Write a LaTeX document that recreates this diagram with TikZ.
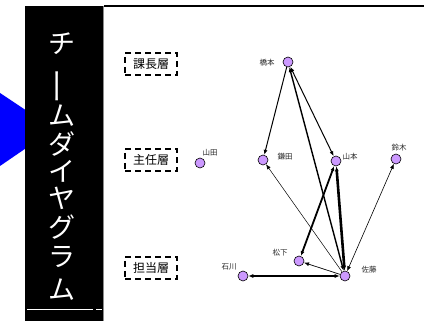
\documentclass[tikz,border=0pt]{standalone}
\usepackage{fontspec}
\setmainfont{Noto Sans CJK JP}
\usetikzlibrary{arrows.meta}
\definecolor{nodeviolet}{RGB}{204,153,255}
\definecolor{panelgray}{RGB}{140,140,140}
\tikzset{
  person/.style={circle,draw=black,line width=0.6pt,fill=nodeviolet,minimum size=10pt,inner sep=0pt},
  plabel/.style={font=\fontsize{7.5}{8}\selectfont,text=black!85,inner sep=0pt},
  layer/.style={draw=black,dashed,dash pattern=on 6pt off 4pt,line width=1.4pt,minimum width=52pt,minimum height=22pt,inner sep=0pt,font=\fontsize{12}{13}\selectfont},
  vchar/.style={text=white,font=\fontsize{27}{27}\selectfont,inner sep=0pt,text height=21pt,text depth=1pt},
  link/.style={-{Latex[length=5pt,width=4pt]}},
  blink/.style={{Latex[length=5pt,width=4pt]}-{Latex[length=5pt,width=4pt]}}
}
\begin{document}
\begin{tikzpicture}[x=1pt,y=-1pt]
\useasboundingbox (0,0) rectangle (424,321);
% blue arrow triangle
\fill[blue] (0,93) -- (54,129) -- (0,166) -- cycle;
% panel
\fill[black] (25,6) rectangle (103,321);
\draw[panelgray,line width=0.8pt] (103.5,6) -- (103.5,321);
\draw[black,line width=2pt] (104,6) -- (424,6);
\draw[white,line width=0.8pt] (27,309) -- (93,309);
\draw[white,line width=0.8pt] (96,309) -- (102,309);
% vertical title
\node[vchar] (t1) at (62,44) {チ};
\node[vchar] (t2) at (62,82) {\rotatebox[origin=c]{90}{\scalebox{1.35}[1]{ー}}};
\node[vchar] (t3) at (62,116) {ム};
\node[vchar] (t4) at (62,145) {ダ};
\node[vchar] (t5) at (62,172) {イ};
\node[vchar] (t6) at (62,199) {ヤ};
\node[vchar] (t7) at (62,227) {グ};
\node[vchar] (t8) at (62,257) {ラ};
\node[vchar] (t9) at (62,290) {ム};
% layers
\node[layer] (l1) at (151,64) {課長層};
\node[layer] (l2) at (151,160) {主任層};
\node[layer] (l3) at (151,268) {担当層};
% people
\node[person] (yamada) at (200,163) {};
\node[person] (hashimoto) at (288,62) {};
\node[person] (kamata) at (263,160) {};
\node[person] (yamamoto) at (336,161) {};
\node[person] (suzuki) at (396,159) {};
\node[person] (matsushita) at (299,261) {};
\node[person] (sato) at (345,276) {};
\node[person] (ishikawa) at (243,276) {};
% labels
\node[plabel] (lyamada) at (210,153) {山田};
\node[plabel] (lhashimoto) at (267,63) {橋本};
\node[plabel] (lkamata) at (285,157) {鎌田};
\node[plabel] (lyamamoto) at (350,157) {山本};
\node[plabel] (lsuzuki) at (399,148) {鈴木};
\node[plabel] (lmatsushita) at (280,253) {松下};
\node[plabel] (lsato) at (369,270) {佐藤};
\node[plabel] (lishikawa) at (229,267) {石川};
% links
\draw[link,line width=1pt] (hashimoto) -- (kamata);
\draw[blink,line width=1pt] (hashimoto) -- (yamamoto);
\draw[blink,line width=1.4pt] (sato) -- (hashimoto);
\draw[link,line width=0.5pt] (sato) -- (kamata);
\draw[blink,line width=2.6pt] (sato) -- (yamamoto);
\draw[blink,line width=1.8pt] (yamamoto) -- (matsushita);
\draw[link,line width=0.7pt] (sato) -- (matsushita);
\draw[blink,line width=0.6pt] (sato) -- (suzuki);
\draw[blink,line width=1.2pt] (ishikawa) -- (sato);
\end{tikzpicture}
\end{document}
